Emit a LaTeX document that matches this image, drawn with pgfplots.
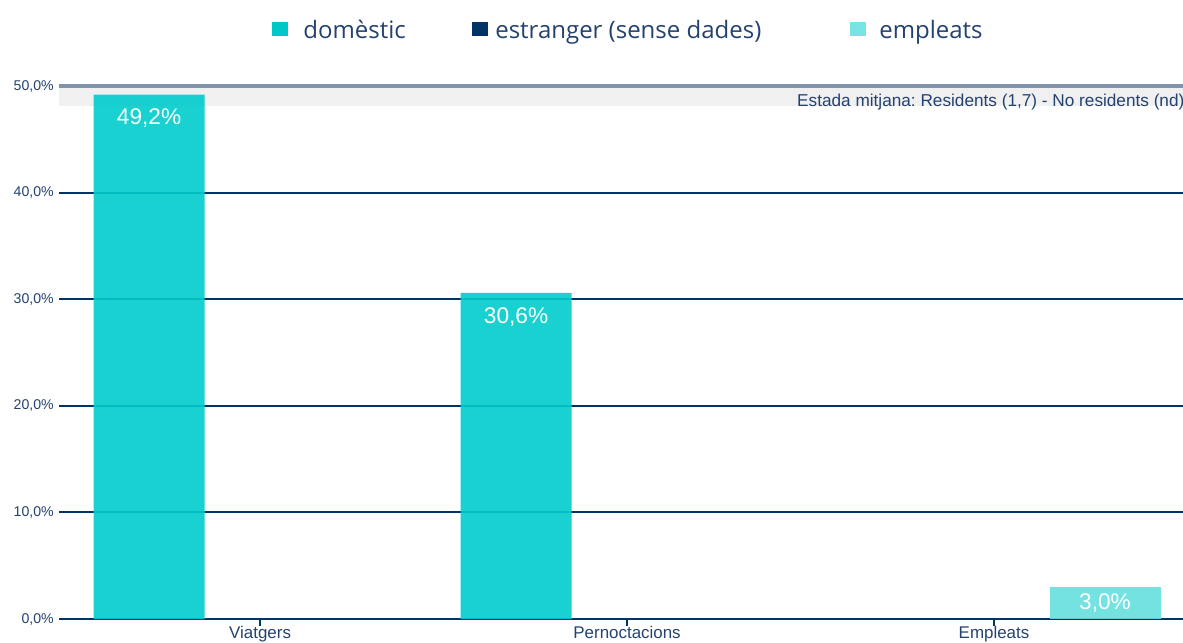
\documentclass[border=0pt]{standalone}
\usepackage{pgfplots}
\pgfplotsset{compat=1.18}
\usepackage{fontspec}
\setmainfont{Liberation Sans}
\newfontfamily\legfont{Open Sans}
\frenchspacing
\definecolor{domcol}{HTML}{00CCCC}
\definecolor{domleg}{HTML}{00C8C8}
\definecolor{estcol}{HTML}{003366}
\definecolor{empcol}{HTML}{66DFDF}
\definecolor{empleg}{HTML}{77E3E3}
\definecolor{gridcol}{HTML}{003366}
\definecolor{textcol}{HTML}{24426F}
\definecolor{bandcol}{HTML}{F0F0F0}
\definecolor{topline}{HTML}{7F93AA}

\begin{document}
\begin{tikzpicture}
\begin{axis}[
  scale only axis,
  width=843pt, height=399.75pt,
  xmin=-0.548, xmax=2.515,
  ymin=0, ymax=50,
  clip=false,
  axis line style={draw=none},
  xtick={0,1,2},
  xticklabels={Viatgers,Pernoctacions,Empleats},
  xtick pos=bottom,
  ytick={0,10,20,30,40,50},
  yticklabel={\pgfmathprintnumber[fixed,fixed zerofill,precision=1,use comma,assume math mode=true]{\tick}\%},
  ymajorgrids=true,
  major grid style={draw=gridcol, line width=1.6pt},
  tick align=outside,
  major tick length=5pt,
  xtick style={draw=gridcol, line width=1.4pt},
  ytick style={draw=none},
  xticklabel style={font=\fontsize{12.7}{14}\selectfont, text=textcol, inner sep=0.5pt},
  yticklabel style={font=\fontsize{10.6}{12}\selectfont, text=textcol, inner sep=0pt, xshift=1.25pt},
]
% bande d'annotation
\fill[bandcol] (axis cs:-0.548,48.1) rectangle (axis cs:2.515,50);
\draw[topline, line width=2.3pt] (axis cs:-0.548,50) -- (axis cs:2.515,50);
\node[anchor=west, text=textcol, inner sep=0pt, font=\fontsize{12.9}{14}\selectfont]
  at (axis cs:1.463,48.45) {Estada mitjana: Residents (1,7) - No residents (nd)};

% domestic
\addplot[ybar, bar width=83.25pt, bar shift=-83.25pt, fill=domcol, fill opacity=0.9, draw=none]
  coordinates {(0,49.2) (1,30.6)};
% empleats
\addplot[ybar, bar width=83.25pt, bar shift=83.25pt, fill=empcol, fill opacity=0.9, draw=none]
  coordinates {(2,3.0)};

% etiquetes
\addplot[forget plot, only marks, mark=none, point meta=explicit symbolic,
  nodes near coords=\pgfplotspointmeta,
  every node near coord/.style={anchor=center, xshift=-83.25pt, yshift=-18pt,
    text=white, font=\fontsize{17}{19}\selectfont}]
  coordinates {(0,49.2) [49,2\%] (1,30.6) [30,6\%]};
\addplot[forget plot, only marks, mark=none, point meta=explicit symbolic,
  nodes near coords=\pgfplotspointmeta,
  every node near coord/.style={anchor=center, xshift=83.25pt, yshift=-12.2pt,
    text=white, font=\fontsize{17}{19}\selectfont}]
  coordinates {(2,3.0) [3,0\%]};

% llegenda
\fill[domleg] ([xshift=-6pt,yshift=-5.25pt]axis cs:0.0545,55.35) rectangle ([xshift=6pt,yshift=5.25pt]axis cs:0.0545,55.35);
\node[anchor=base west, inner sep=0pt, text=textcol, font=\legfont\fontsize{18}{20}\selectfont] at (axis cs:0.1172,54.5) {domèstic};
\fill[estcol] ([xshift=-6pt,yshift=-5.25pt]axis cs:0.5995,55.35) rectangle ([xshift=6pt,yshift=5.25pt]axis cs:0.5995,55.35);
\node[anchor=base west, inner sep=0pt, text=textcol, font=\legfont\fontsize{18}{20}\selectfont] at (axis cs:0.6403,54.5) {estranger (sense dades)};
\fill[empleg] ([xshift=-6pt,yshift=-5.25pt]axis cs:1.6294,55.35) rectangle ([xshift=6pt,yshift=5.25pt]axis cs:1.6294,55.35);
\node[anchor=base west, inner sep=0pt, text=textcol, font=\legfont\fontsize{18}{20}\selectfont] at (axis cs:1.6866,54.5) {empleats};
\end{axis}
\pgfresetboundingbox
\path ([xshift=-44.25pt,yshift=-17.25pt]current axis.south west) rectangle ([yshift=64.5pt]current axis.north east);
\end{tikzpicture}
\end{document}
